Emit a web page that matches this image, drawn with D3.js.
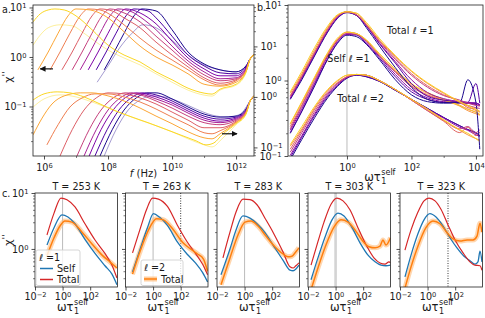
<!DOCTYPE html>
<html>
<head>
<meta charset="utf-8">
<script src="https://cdn.jsdelivr.net/npm/d3@7"></script>
<style>
  body { margin: 0; background: #fff; overflow: hidden; }
  svg text { font-family: "DejaVu Sans", sans-serif; fill: #1a1a1a; }
</style>
</head>
<body>
<svg id="fig" width="485" height="318"></svg>
<script>
// ---- data (log10 exponents: [log10 f or wt, log10 chi'']) ----

// panel a, total l=1 (left axis), one curve per temperature
const aTotal1 = [
  [[7.66,-0.51],[8.0,-0.18],[8.38,0.20],[8.75,0.48],[9.09,0.65],[9.5,0.59],[10.0,0.34],[10.5,0.04],[11.0,-0.16],[11.5,-0.26],[12.0,-0.30],[12.31,-0.18],[12.44,-0.04],[12.56,0.04]],
  [[5.66,0.24],[5.88,0.44],[6.13,0.59],[6.5,0.65],[6.88,0.63],[7.25,0.48],[7.63,0.30],[8.0,0.14],[8.5,-0.02],[9.0,-0.16],[9.5,-0.34],[10.0,-0.51],[10.5,-0.67],[11.0,-0.77],[11.25,-0.79],[11.5,-0.67],[12.0,-0.57],[12.31,-0.32],[12.44,-0.04],[12.56,0.04]],
  [[7.88,-0.26],[8.19,0.10],[8.5,0.48],[8.81,0.83],[9.06,0.97],[9.5,0.93],[10.0,0.55],[10.5,0.10],[11.0,-0.14],[11.5,-0.26],[12.0,-0.30],[12.31,-0.18],[12.44,-0.04],[12.56,0.04]],
  [[7.63,-0.26],[7.94,0.10],[8.25,0.48],[8.56,0.83],[8.81,0.97],[9.25,0.93],[9.5,0.79],[10.0,0.42],[10.5,0.04],[11.0,-0.18],[11.5,-0.32],[12.0,-0.34],[12.31,-0.20],[12.44,-0.04],[12.56,0.04]],
  [[7.38,-0.26],[7.69,0.10],[8.0,0.48],[8.31,0.83],[8.56,0.97],[9.0,0.89],[9.5,0.67],[10.0,0.32],[10.5,-0.02],[11.0,-0.24],[11.5,-0.38],[12.0,-0.38],[12.31,-0.22],[12.44,-0.04],[12.56,0.04]],
  [[7.13,-0.26],[7.44,0.10],[7.75,0.48],[8.06,0.83],[8.31,0.97],[8.75,0.91],[9.0,0.81],[9.5,0.55],[10.0,0.22],[10.5,-0.08],[11.0,-0.30],[11.5,-0.44],[12.0,-0.42],[12.31,-0.24],[12.44,-0.04],[12.56,0.04]],
  [[6.88,-0.26],[7.19,0.10],[7.5,0.48],[7.81,0.83],[8.06,0.97],[8.5,0.89],[9.0,0.71],[9.5,0.42],[10.0,0.14],[10.5,-0.14],[11.0,-0.36],[11.5,-0.48],[12.0,-0.44],[12.31,-0.26],[12.44,-0.04],[12.56,0.04]],
  [[6.56,-0.26],[6.88,0.10],[7.19,0.48],[7.5,0.83],[7.75,0.97],[8.13,0.93],[8.5,0.79],[9.0,0.59],[9.5,0.30],[10.0,0.04],[10.5,-0.20],[11.0,-0.42],[11.5,-0.53],[12.0,-0.46],[12.31,-0.28],[12.44,-0.04],[12.56,0.04]],
  [[6.19,-0.26],[6.5,0.10],[6.81,0.48],[7.13,0.83],[7.38,0.97],[7.75,0.95],[8.13,0.83],[8.5,0.65],[9.0,0.38],[9.5,0.14],[10.0,-0.06],[10.5,-0.26],[11.0,-0.46],[11.5,-0.57],[12.0,-0.48],[12.31,-0.28],[12.44,-0.04],[12.56,0.04]],
  [[5.81,-0.26],[6.13,0.10],[6.44,0.48],[6.75,0.83],[7.0,0.97],[7.44,0.95],[8.0,0.79],[8.5,0.51],[9.0,0.22],[9.5,0.0],[10.0,-0.16],[10.5,-0.34],[11.0,-0.55],[11.5,-0.59],[12.0,-0.51],[12.31,-0.30],[12.44,-0.04],[12.56,0.04]],
  [[5.66,0.71],[5.88,0.87],[6.13,0.95],[6.34,0.97],[6.63,0.95],[7.0,0.83],[7.5,0.55],[8.0,0.24],[8.5,0.04],[9.0,-0.10],[9.5,-0.30],[10.0,-0.46],[10.5,-0.63],[11.0,-0.73],[11.25,-0.75],[11.5,-0.65],[12.0,-0.55],[12.31,-0.30],[12.44,-0.04],[12.56,0.04]]
];

// panel a, total l=2 (right axis)
const aTotal2 = [
  [[7.88,-1.17],[8.25,-0.65],[8.63,-0.26],[9.0,-0.06],[9.38,0.02],[9.75,0.0],[10.25,-0.10],[10.75,-0.24],[11.25,-0.36],[11.75,-0.40],[12.13,-0.34],[12.44,-0.08],[12.56,0.02]],
  [[5.66,-0.20],[6.0,-0.04],[6.5,0.04],[7.0,0.0],[7.5,-0.10],[8.0,-0.22],[8.5,-0.34],[9.0,-0.46],[9.5,-0.57],[10.0,-0.69],[10.5,-0.83],[11.0,-0.95],[11.25,-0.99],[11.56,-0.83],[12.0,-0.55],[12.31,-0.34],[12.44,-0.08],[12.56,0.02]],
  [[7.75,-1.17],[8.13,-0.65],[8.5,-0.26],[8.88,-0.02],[9.25,0.08],[9.5,0.08],[10.0,-0.04],[10.5,-0.20],[11.0,-0.34],[11.5,-0.40],[12.0,-0.38],[12.31,-0.24],[12.44,-0.08],[12.56,0.02]],
  [[7.59,-1.17],[7.97,-0.65],[8.34,-0.26],[8.72,-0.02],[9.09,0.08],[9.5,0.04],[10.0,-0.08],[10.5,-0.24],[11.0,-0.38],[11.5,-0.44],[12.0,-0.40],[12.31,-0.26],[12.44,-0.08],[12.56,0.02]],
  [[7.41,-1.17],[7.78,-0.65],[8.16,-0.26],[8.53,-0.02],[8.91,0.08],[9.5,0.0],[10.0,-0.12],[10.5,-0.28],[11.0,-0.42],[11.5,-0.48],[12.0,-0.42],[12.31,-0.28],[12.44,-0.08],[12.56,0.02]],
  [[7.25,-1.17],[7.63,-0.65],[8.0,-0.26],[8.38,-0.02],[8.75,0.08],[9.0,0.06],[9.5,-0.04],[10.0,-0.16],[10.5,-0.32],[11.0,-0.46],[11.5,-0.51],[12.0,-0.44],[12.31,-0.28],[12.44,-0.08],[12.56,0.02]],
  [[7.03,-1.17],[7.41,-0.65],[7.78,-0.26],[8.16,-0.02],[8.53,0.08],[9.0,0.04],[9.5,-0.08],[10.0,-0.22],[10.5,-0.38],[11.0,-0.51],[11.5,-0.55],[12.0,-0.46],[12.31,-0.30],[12.44,-0.08],[12.56,0.02]],
  [[6.5,-1.17],[6.88,-0.65],[7.25,-0.26],[7.63,-0.02],[8.0,0.08],[8.5,0.06],[9.0,-0.02],[9.5,-0.14],[10.0,-0.30],[10.5,-0.46],[11.0,-0.61],[11.5,-0.61],[12.0,-0.48],[12.31,-0.30],[12.44,-0.08],[12.56,0.02]],
  [[6.09,-0.95],[6.44,-0.55],[6.81,-0.20],[7.19,-0.02],[7.59,0.06],[8.0,0.06],[8.5,0.0],[9.0,-0.10],[9.5,-0.24],[10.0,-0.40],[10.5,-0.55],[11.0,-0.71],[11.25,-0.73],[11.5,-0.67],[12.0,-0.50],[12.31,-0.32],[12.44,-0.08],[12.56,0.02]],
  [[5.66,-0.75],[5.94,-0.42],[6.25,-0.14],[6.63,0.02],[7.13,0.08],[7.5,0.08],[8.0,0.02],[8.5,-0.08],[9.0,-0.22],[9.5,-0.38],[10.0,-0.53],[10.5,-0.69],[11.0,-0.81],[11.25,-0.83],[11.5,-0.73],[12.0,-0.51],[12.31,-0.32],[12.44,-0.08],[12.56,0.02]],
  [[5.66,-0.06],[6.0,0.06],[6.41,0.10],[6.81,0.08],[7.25,0.0],[7.75,-0.14],[8.25,-0.28],[8.75,-0.40],[9.25,-0.51],[9.75,-0.63],[10.25,-0.75],[10.75,-0.87],[11.06,-0.95],[11.31,-0.91],[11.56,-0.75],[12.0,-0.53],[12.31,-0.34],[12.44,-0.08],[12.56,0.02]]
];
const aColorT = [0.02, 0.93, 0.02, 0.13, 0.25, 0.37, 0.48, 0.58, 0.68, 0.8, 0.92];
const aOpacity = [0.4, 0.45, 1, 1, 1, 1, 1, 1, 1, 1, 1];
const aArrows = [[6.28, 5.88, -0.24, "L"], [11.56, 12.03, -0.73, "R"]];

// panel b, scaled frequency grid, and curves on it
const bX = [-1.76,-1.4,-1.0,-0.6,-0.3,0,0.3,0.6,1.0,1.5,2.0,2.5,3.0,3.5,3.75,4.0,4.12];
const bTotal1 = [
  [-0.25,0.01,0.33,0.64,0.82,0.90,0.86,0.70,0.46,0.17,-0.09,-0.25,-0.29,-0.29,0.01,-0.29,-0.91],
  [-0.24,0.03,0.34,0.65,0.83,0.90,0.86,0.72,0.49,0.23,-0.04,-0.21,-0.26,-0.28,-0.29,-0.04,-0.30],
  [-0.23,0.04,0.36,0.66,0.83,0.91,0.87,0.73,0.50,0.25,0.01,-0.16,-0.24,-0.28,-0.29,-0.30,-0.32],
  [-0.21,0.05,0.37,0.68,0.85,0.91,0.87,0.74,0.52,0.28,0.07,-0.09,-0.20,-0.26,-0.30,-0.33,-0.34],
  [-0.20,0.07,0.38,0.68,0.85,0.91,0.87,0.74,0.53,0.30,0.09,-0.07,-0.19,-0.28,-0.36,-0.38,-0.41],
  [-0.17,0.09,0.41,0.70,0.86,0.91,0.89,0.75,0.54,0.32,0.12,-0.04,-0.17,-0.29,-0.34,-0.40,-0.42],
  [-0.15,0.12,0.44,0.72,0.87,0.91,0.89,0.77,0.56,0.33,0.13,-0.03,-0.16,-0.28,-0.33,-0.38,-0.41]
];
const bSelf1 = [
  [-0.70,-0.41,-0.07,0.28,0.49,0.60,0.58,0.48,0.28,0.01,-0.19,-0.28,-0.30,-0.30,-0.30,-0.30,-0.33],
  [-0.69,-0.40,-0.05,0.29,0.50,0.61,0.60,0.49,0.30,0.05,-0.15,-0.25,-0.29,-0.29,-0.30,-0.30,-0.32],
  [-0.66,-0.37,-0.03,0.32,0.52,0.62,0.61,0.50,0.32,0.08,-0.12,-0.23,-0.28,-0.29,-0.30,-0.32,-0.33],
  [-0.64,-0.34,0.00,0.33,0.53,0.62,0.61,0.52,0.33,0.11,-0.08,-0.20,-0.26,-0.30,-0.33,-0.36,-0.37],
  [-0.61,-0.32,0.03,0.34,0.54,0.64,0.62,0.53,0.34,0.12,-0.07,-0.19,-0.26,-0.33,-0.38,-0.42,-0.45],
  [-0.58,-0.29,0.04,0.36,0.54,0.64,0.62,0.53,0.34,0.13,-0.05,-0.17,-0.26,-0.34,-0.40,-0.44,-0.46],
  [-0.57,-0.28,0.05,0.37,0.56,0.64,0.62,0.54,0.36,0.15,-0.04,-0.16,-0.25,-0.33,-0.38,-0.42,-0.45]
];
const bTotal2 = [
  [-1.05,-0.78,-0.49,-0.23,-0.08,0.03,0.07,0.05,-0.01,-0.13,-0.25,-0.37,-0.49,-0.60,-0.65,-0.69,-0.73],
  [-1.02,-0.75,-0.46,-0.21,-0.07,0.04,0.07,0.05,-0.01,-0.13,-0.25,-0.37,-0.49,-0.60,-0.65,-0.70,-0.73],
  [-0.99,-0.73,-0.44,-0.19,-0.05,0.04,0.08,0.07,0.00,-0.12,-0.25,-0.38,-0.50,-0.62,-0.66,-0.72,-0.74],
  [-0.95,-0.69,-0.41,-0.17,-0.04,0.05,0.08,0.07,0.00,-0.12,-0.26,-0.40,-0.53,-0.64,-0.61,-0.69,-0.65],
  [-0.91,-0.66,-0.38,-0.15,-0.03,0.05,0.08,0.07,0.00,-0.12,-0.26,-0.40,-0.54,-0.69,-0.62,-0.73,-0.68],
  [-0.87,-0.64,-0.36,-0.13,-0.01,0.07,0.08,0.07,0.00,-0.12,-0.25,-0.38,-0.53,-0.66,-0.72,-0.77,-0.79],
  [-0.85,-0.61,-0.34,-0.12,0.00,0.07,0.08,0.07,0.00,-0.12,-0.25,-0.38,-0.52,-0.65,-0.70,-0.77,-0.81]
];
const bColorT = [0.02, 0.15, 0.3, 0.45, 0.6, 0.75, 0.9];
const bLabels = [["Total \u2113 =1", 1.24, 0.61], ["Self \u2113 =1", -0.61, 0.25], ["Total \u2113 =2", -0.30, -0.28]];

// panel c, one entry per temperature
const cTemps = [253, 263, 283, 303, 323];
const cSelf = [
  [[-1.13,0.07],[-0.62,0.38],[-0.04,0.61],[0.39,0.57],[0.9,0.45],[1.62,0.17],[2.35,-0.08],[3.07,-0.30],[3.58,-0.45],[3.94,-0.64]],
  [[-1.49,-0.41],[-0.91,0.02],[-0.41,0.38],[0.03,0.63],[0.46,0.57],[1.04,0.42],[1.77,0.12],[2.49,-0.10],[3.07,-0.25],[3.58,-0.42],[3.95,-0.59]],
  [[-1.71,-0.46],[-1.06,0.0],[-0.62,0.34],[-0.12,0.59],[0.39,0.55],[0.9,0.45],[1.48,0.29],[2.06,0.07],[2.78,-0.20],[3.29,-0.38],[3.51,-0.39],[3.72,-0.36],[3.94,-0.29]],
  [[-1.78,-0.55],[-1.28,-0.16],[-0.77,0.21],[-0.26,0.52],[0.17,0.64],[0.61,0.59],[1.19,0.38],[1.77,0.11],[2.35,-0.11],[2.86,-0.23],[3.29,-0.29],[3.65,-0.30],[3.98,-0.29]],
  [[-1.64,-0.50],[-1.2,-0.11],[-0.7,0.27],[-0.26,0.52],[0.17,0.63],[0.61,0.57],[1.12,0.41],[1.62,0.20],[2.13,0.02],[2.64,-0.13],[3.07,-0.21],[3.43,-0.27],[3.65,-0.23],[3.8,-0.04],[3.94,-0.23]]
];
const cTotal1 = [
  [[-1.13,0.25],[-0.62,0.64],[-0.12,0.91],[0.32,0.88],[0.9,0.75],[1.62,0.45],[2.35,0.16],[3.07,-0.08],[3.58,-0.29],[3.94,-0.52]],
  [[-1.49,-0.07],[-0.91,0.38],[-0.48,0.70],[-0.04,0.91],[0.39,0.89],[1.04,0.76],[1.77,0.42],[2.49,0.12],[3.07,-0.08],[3.58,-0.27],[3.95,-0.46]],
  [[-1.57,-0.16],[-1.06,0.30],[-0.62,0.66],[-0.12,0.89],[0.39,0.88],[0.9,0.79],[1.48,0.55],[2.06,0.30],[2.78,-0.05],[3.29,-0.32],[3.51,-0.34],[3.72,-0.30],[3.94,-0.25]],
  [[-1.78,-0.29],[-1.28,0.13],[-0.84,0.48],[-0.33,0.80],[0.1,0.91],[0.54,0.86],[1.04,0.70],[1.62,0.38],[2.28,0.04],[2.78,-0.16],[3.22,-0.25],[3.58,-0.27],[3.87,-0.23],[3.98,-0.25]],
  [[-1.64,-0.02],[-1.2,0.34],[-0.7,0.66],[-0.26,0.86],[0.1,0.91],[0.54,0.86],[0.97,0.71],[1.48,0.43],[1.99,0.16],[2.57,-0.07],[3.07,-0.23],[3.43,-0.29],[3.8,-0.30],[3.94,-0.38]]
];
const cTotal2 = [
  [[-1.13,-0.12],[-0.62,0.20],[-0.19,0.41],[0.17,0.50],[0.68,0.48],[1.41,0.30],[2.13,0.09],[2.86,-0.11],[3.43,-0.23],[3.94,-0.34]],
  [[-1.49,-0.45],[-0.91,-0.02],[-0.33,0.34],[0.25,0.54],[0.75,0.52],[1.41,0.36],[2.13,0.12],[2.71,0.0],[3.22,-0.09],[3.65,-0.18],[3.95,-0.40]],
  [[-1.71,-0.64],[-1.06,-0.16],[-0.48,0.25],[0.03,0.48],[0.46,0.50],[0.97,0.41],[1.55,0.23],[2.2,0.04],[2.78,-0.09],[3.14,-0.14],[3.43,-0.13],[3.72,-0.05],[3.94,0.02]],
  [[-1.78,-0.73],[-1.28,-0.34],[-0.7,0.07],[-0.12,0.39],[0.39,0.52],[0.9,0.48],[1.41,0.34],[1.91,0.16],[2.42,0.04],[2.86,0.02],[3.22,0.05],[3.43,0.16],[3.65,0.07],[3.98,0.20]],
  [[-1.64,-0.70],[-1.2,-0.32],[-0.7,0.05],[-0.12,0.38],[0.39,0.50],[0.9,0.45],[1.41,0.29],[1.84,0.18],[2.35,0.14],[2.86,0.16],[3.29,0.16],[3.58,0.23],[3.8,0.46],[3.94,0.30]]
];
const cDotted = [null, 2.0, null, null, 1.48];

// ---- drawing ----
const svg = d3.select("#fig");
const P = v => Math.pow(10, v);
const sup = e => (e < 0 ? "\u2212" + (-e) : "" + e);

const A = { x0: 33, x1: 254, y0: 5, y1: 156 };
const B = { x0: 288, x1: 483, y0: 5, y1: 156 };
const C = { y0: 193, y1: 287, w: 82.5, left: [35, 125.5, 217, 308, 400] };

const ax = d3.scaleLog().domain([P(5.656), P(12.56)]).range([A.x0, A.x1]);
const ayL = d3.scaleLog().domain([P(-2.0), P(1.05)]).range([A.y1, A.y0]);
const ayR = d3.scaleLog().domain([P(-1.17), P(1.82)]).range([A.y1, A.y0]);
const bx = d3.scaleLog().domain([P(-1.83), P(4.22)]).range([B.x0, B.x1]);
const by = d3.scaleLog().domain([P(-1), P(1)]).range([B.y1, B.y0]);
const cy = d3.scaleLog().domain([P(-0.68), P(1.0)]).range([C.y1, C.y0]);

const defs = svg.append("defs");
function clip(id, x0, y0, x1, y1) {
  defs.append("clipPath").attr("id", id).append("rect")
    .attr("x", x0).attr("y", y0).attr("width", x1 - x0).attr("height", y1 - y0);
}
defs.append("marker").attr("id", "ah").attr("viewBox", "0 0 10 10")
  .attr("refX", 9).attr("refY", 5).attr("markerWidth", 5).attr("markerHeight", 5)
  .attr("orient", "auto").append("path").attr("d", "M0,0L10,5L0,10z").attr("fill", "#111");

function subTicks(lo, hi) {
  const out = [];
  for (let e = Math.floor(lo); e <= Math.ceil(hi); e++)
    for (let k = 2; k <= 9; k++) {
      const v = k * P(e);
      if (Math.log10(v) >= lo && Math.log10(v) <= hi) out.push(v);
    }
  return out;
}

function axis(gen, scale, tx, ty, major, minor, labels, pad) {
  if (minor.length) {
    const gm = svg.append("g").attr("transform", `translate(${tx},${ty})`)
      .call(gen(scale).tickValues(minor).tickSize(2).tickSizeOuter(0).tickFormat(""));
    gm.select(".domain").remove();
    gm.selectAll("line").attr("stroke", "#222").attr("stroke-width", 0.6);
  }
  const g = svg.append("g").attr("transform", `translate(${tx},${ty})`)
    .call(gen(scale).tickValues(major).tickSize(3.5).tickSizeOuter(0).tickPadding(pad || 3));
  g.select(".domain").remove();
  g.attr("font-family", null).attr("font-size", 9.6);
  g.selectAll("line").attr("stroke", "#222").attr("stroke-width", 0.8);
  g.selectAll(".tick text").each(function (d) {
    const t = d3.select(this).text("");
    if (!labels) return;
    t.append("tspan").text("10");
    t.append("tspan").attr("dy", "-0.45em").attr("font-size", "0.7em")
      .text(sup(Math.round(Math.log10(d))));
  });
  return g;
}

function box(x0, y0, x1, y1) {
  svg.append("rect").attr("x", x0).attr("y", y0).attr("width", x1 - x0).attr("height", y1 - y0)
    .attr("fill", "none").attr("stroke", "#222").attr("stroke-width", 0.8);
}

function chiLabel(x, y) {
  const t = svg.append("text").attr("transform", `translate(${x},${y}) rotate(-90)`)
    .attr("text-anchor", "middle").attr("font-size", 11);
  t.append("tspan").text("\u03c7");
  t.append("tspan").attr("dy", "-0.3em").attr("font-size", "0.85em").text("''");
}

function omegaTau(cx, base) {
  const g = svg.append("g");
  const m = g.append("text").attr("y", base).attr("font-size", 11.5).text("\u03c9\u03c4");
  const w = m.node().getComputedTextLength();
  const s = g.append("text").attr("x", w + 0.6).attr("y", base - 6).attr("font-size", 8).text("self");
  const ws = s.node().getComputedTextLength();
  g.append("text").attr("x", w + 0.6).attr("y", base + 2.8).attr("font-size", 8).text("1");
  g.attr("transform", `translate(${cx - (w + ws) / 2},0)`);
}

// ---------- panel a ----------
clip("clipA", A.x0, A.y0, A.x1, A.y1);
const gA = svg.append("g").attr("clip-path", "url(#clipA)");
const lineAL = d3.line().x(d => ax(P(d[0]))).y(d => ayL(P(d[1]))).curve(d3.curveMonotoneX);
const lineAR = d3.line().x(d => ax(P(d[0]))).y(d => ayR(P(d[1]))).curve(d3.curveMonotoneX);
aTotal1.forEach((c, i) => gA.append("path").attr("d", lineAL(c)).attr("fill", "none")
  .attr("stroke", d3.interpolatePlasma(aColorT[i])).attr("stroke-opacity", aOpacity[i]).attr("stroke-width", 1));
aTotal2.forEach((c, i) => gA.append("path").attr("d", lineAR(c)).attr("fill", "none")
  .attr("stroke", d3.interpolatePlasma(aColorT[i])).attr("stroke-opacity", aOpacity[i]).attr("stroke-width", 1));

aArrows.forEach(a => {
  const sc = a[3] === "L" ? ayL : ayR;
  svg.append("line").attr("x1", ax(P(a[0]))).attr("x2", ax(P(a[1])))
    .attr("y1", sc(P(a[2]))).attr("y2", sc(P(a[2])))
    .attr("stroke", "#111").attr("stroke-width", 1.2).attr("marker-end", "url(#ah)");
});

axis(d3.axisBottom, ax, 0, A.y1, [P(6), P(8), P(10), P(12)], [P(7), P(9), P(11)], true, 4.5);
axis(d3.axisLeft, ayL, A.x0, 0, [P(-1), P(0), P(1)], subTicks(-2, 1.05), true);
axis(d3.axisRight, ayR, A.x1, 0, [P(-1), P(0), P(1)], subTicks(-1.17, 1.82), true);
box(A.x0, A.y0, A.x1, A.y1);
chiLabel(12, 77);
const fl = svg.append("text").attr("x", (A.x0 + A.x1) / 2).attr("y", 177)
  .attr("text-anchor", "middle").attr("font-size", 10);
fl.append("tspan").attr("font-style", "italic").text("f");
fl.append("tspan").text(" (Hz)");
svg.append("text").attr("x", 2).attr("y", 13).attr("font-size", 9.6).text("a.");

// ---------- panel b ----------
clip("clipB", B.x0, B.y0, B.x1, B.y1);
const gB = svg.append("g").attr("clip-path", "url(#clipB)");
gB.append("line").attr("x1", bx(1)).attr("x2", bx(1)).attr("y1", B.y0).attr("y2", B.y1)
  .attr("stroke", "#bbb").attr("stroke-width", 1);
const lineB = d3.line().x((d, i) => bx(P(bX[i]))).y(d => by(P(d))).curve(d3.curveMonotoneX);
[bTotal2, bSelf1, bTotal1].forEach(group => group.forEach((ys, i) =>
  gB.append("path").attr("d", lineB(ys)).attr("fill", "none")
    .attr("stroke", d3.interpolatePlasma(bColorT[i])).attr("stroke-width", 1)));
bLabels.forEach(l => svg.append("text").attr("x", bx(P(l[1]))).attr("y", by(P(l[2])))
  .attr("font-size", 9.6).text(l[0]));

axis(d3.axisBottom, bx, 0, B.y1, [P(0), P(2), P(4)], [P(-1), P(1), P(3)], true, 4.5);
axis(d3.axisLeft, by, B.x0, 0, [P(-1), P(0), P(1)], subTicks(-1, 1), true);
box(B.x0, B.y0, B.x1, B.y1);
omegaTau((B.x0 + B.x1) / 2 - 6, 181);
svg.append("text").attr("x", 257).attr("y", 11).attr("font-size", 9.6).text("b.");

// ---------- panel c ----------
const lineCOf = sx => d3.line().x(d => sx(P(d[0]))).y(d => cy(P(d[1]))).curve(d3.curveMonotoneX);
cTemps.forEach((T, i) => {
  const x0 = C.left[i], x1 = x0 + C.w;
  const cx = d3.scaleLog().domain([P(-2), P(3.98)]).range([x0, x1]);
  const line = lineCOf(cx);
  clip("clipC" + i, x0, C.y0, x1, C.y1);
  const g = svg.append("g").attr("clip-path", `url(#clipC${i})`);
  g.append("line").attr("x1", cx(1)).attr("x2", cx(1)).attr("y1", C.y0).attr("y2", C.y1)
    .attr("stroke", i === 3 ? "#d4d4d4" : "#bbb").attr("stroke-width", i === 3 ? 2.6 : 1);
  if (cDotted[i] !== null)
    g.append("line").attr("x1", cx(P(cDotted[i]))).attr("x2", cx(P(cDotted[i])))
      .attr("y1", C.y0).attr("y2", C.y1).attr("stroke", "#222").attr("stroke-width", 0.9)
      .attr("stroke-dasharray", "1,1.5");
  g.append("path").attr("d", line(cTotal2[i])).attr("fill", "none")
    .attr("stroke", "#ffbb78").attr("stroke-opacity", 0.6).attr("stroke-width", 5);
  g.append("path").attr("d", line(cSelf[i])).attr("fill", "none").attr("stroke", "#1f77b4").attr("stroke-width", 1.3);
  g.append("path").attr("d", line(cTotal1[i])).attr("fill", "none").attr("stroke", "#d62728").attr("stroke-width", 1.2);
  g.append("path").attr("d", line(cTotal2[i])).attr("fill", "none").attr("stroke", "#ff7f0e").attr("stroke-width", 1.5);

  axis(d3.axisBottom, cx, 0, C.y1, [P(-2), P(0), P(2)], [], true, 3);
  axis(d3.axisLeft, cy, x0, 0, [P(0), P(1)], subTicks(-0.68, 1), i === 0);
  box(x0, C.y0, x1, C.y1);
  svg.append("text").attr("x", (x0 + x1) / 2).attr("y", 190).attr("text-anchor", "middle")
    .attr("font-size", 9.6).text(`T = ${T} K`);
  omegaTau((x0 + x1) / 2 - 4, 311);
});
chiLabel(12, 240);
svg.append("text").attr("x", 2).attr("y", 197).attr("font-size", 9.6).text("c.");

// legends
function legendBox(x, y, w, h) {
  svg.append("rect").attr("x", x).attr("y", y).attr("width", w).attr("height", h).attr("rx", 2)
    .attr("fill", "#fff").attr("fill-opacity", 0.8).attr("stroke", "#ccc").attr("stroke-width", 0.8);
}
legendBox(36, 250, 44, 35.5);
svg.append("text").attr("x", 39).attr("y", 261).attr("font-size", 9.6).text("\u2113 =1");
svg.append("line").attr("x1", 40).attr("x2", 53).attr("y1", 268.5).attr("y2", 268.5).attr("stroke", "#1f77b4").attr("stroke-width", 1.5);
svg.append("text").attr("x", 57).attr("y", 272).attr("font-size", 9.6).text("Self");
svg.append("line").attr("x1", 40).attr("x2", 53).attr("y1", 279.5).attr("y2", 279.5).attr("stroke", "#d62728").attr("stroke-width", 1.5);
svg.append("text").attr("x", 57).attr("y", 283).attr("font-size", 9.6).text("Total");

legendBox(141, 260, 42, 25.5);
svg.append("text").attr("x", 144).attr("y", 271).attr("font-size", 9.6).text("\u2113 =2");
svg.append("line").attr("x1", 144).attr("x2", 157).attr("y1", 279).attr("y2", 279).attr("stroke", "#ffbb78").attr("stroke-opacity", 0.7).attr("stroke-width", 5);
svg.append("line").attr("x1", 144).attr("x2", 157).attr("y1", 279).attr("y2", 279).attr("stroke", "#ff7f0e").attr("stroke-width", 1.5);
svg.append("text").attr("x", 161).attr("y", 282.5).attr("font-size", 9.6).text("Total");
</script>
</body>
</html>
